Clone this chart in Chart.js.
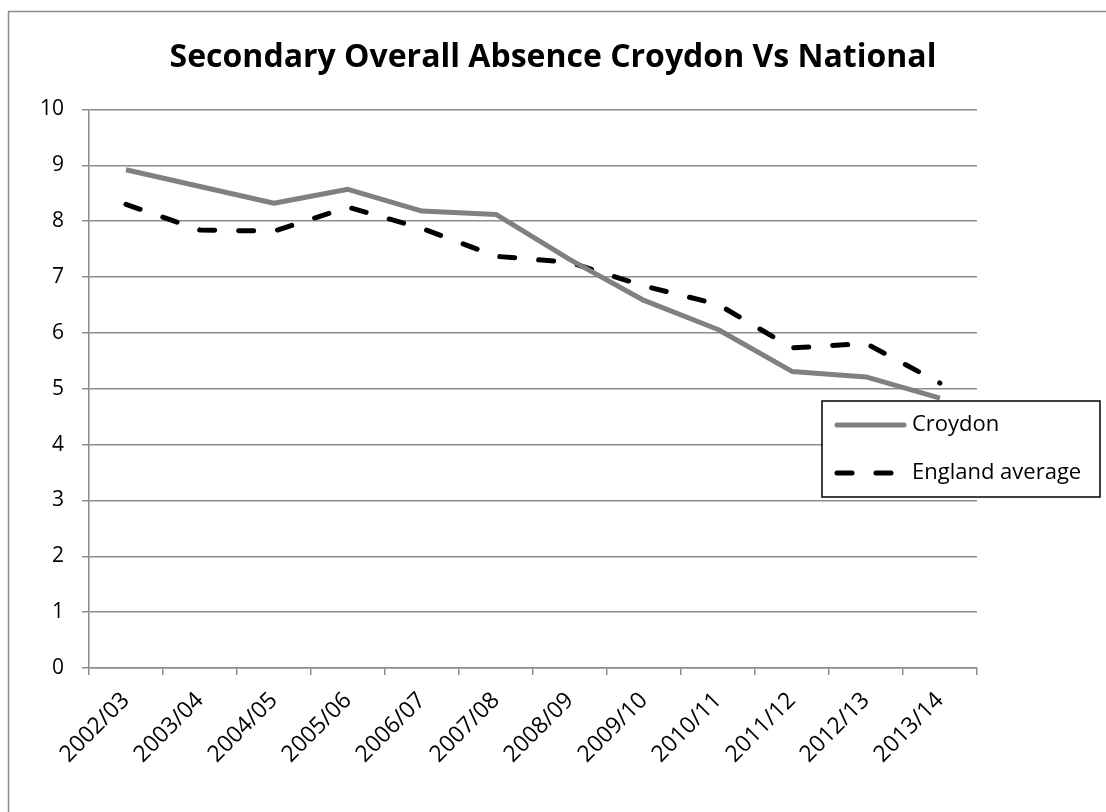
<!DOCTYPE html>
<html>
<head>
<meta charset="utf-8">
<script src="https://cdn.jsdelivr.net/npm/chart.js@4/dist/chart.umd.min.js"></script>
<style>
  html, body { margin: 0; padding: 0; background: #fff; }
  #wrap { width: 1106px; height: 812px; position: relative; }
</style>
</head>
<body>
<div id="wrap"><canvas id="absenceChart"></canvas></div>
<script>
// school years on the x axis
const years = ["2002/03", "2003/04", "2004/05", "2005/06", "2006/07", "2007/08",
               "2008/09", "2009/10", "2010/11", "2011/12", "2012/13", "2013/14"];

// overall absence (%)
const croydon = [8.92, 8.62, 8.32, 8.57, 8.18, 8.12, 7.31, 6.58, 6.06, 5.31, 5.21, 4.83];
const englandAverage = [8.30, 7.84, 7.82, 8.25, 7.87, 7.37, 7.26, 6.84, 6.51, 5.73, 5.81, 5.10];

const yMin = 0;
const yMax = 10;
const yStep = 1;

const gridGrey = "#8c8c8c";

// white page + the grey frame Excel draws round the chart
const framePlugin = {
    id: "frame",
    beforeDraw(chart) {
        const ctx = chart.ctx;
        ctx.save();
        ctx.fillStyle = "#fff";
        ctx.fillRect(0, 0, chart.width, chart.height);
        ctx.strokeStyle = "#8a8a8a";
        ctx.lineWidth = 1.5;
        ctx.strokeRect(8.5, 11.5, chart.width + 50, chart.height + 50);
        ctx.restore();
    }
};

// legend box that sits over the right edge of the plot, as in the original
const boxLegendPlugin = {
    id: "boxLegend",
    afterDraw(chart) {
        const ctx = chart.ctx;
        const left = 822, top = 401, right = 1100, bottom = 497;
        ctx.save();
        ctx.fillStyle = "#fff";
        ctx.fillRect(left, top, right - left, bottom - top);
        ctx.strokeStyle = "#000";
        ctx.lineWidth = 1.5;
        ctx.strokeRect(left, top, right - left, bottom - top);

        const rows = [425, 473];
        chart.data.datasets.forEach((ds, i) => {
            const y = rows[i];
            ctx.beginPath();
            ctx.strokeStyle = ds.borderColor;
            ctx.lineWidth = ds.borderWidth;
            ctx.lineCap = "round";
            ctx.setLineDash(ds.borderDash || []);
            ctx.moveTo(837, y);
            ctx.lineTo(904, y);
            ctx.stroke();
            ctx.setLineDash([]);
            ctx.fillStyle = "#000";
            ctx.font = "22px 'Open Sans'";
            ctx.textBaseline = "middle";
            ctx.textAlign = "left";
            ctx.fillText(ds.label, 912, y);
        });
        ctx.restore();
    }
};

const ctx = document.getElementById("absenceChart").getContext("2d");
new Chart(ctx, {
    type: "line",
    data: {
        labels: years,
        datasets: [{
            label: "Croydon",
            data: croydon,
            borderColor: "#808080",
            borderWidth: 5,
            pointRadius: 0,
            tension: 0,
            borderJoinStyle: "round"
        }, {
            label: "England average",
            data: englandAverage,
            borderColor: "#000000",
            borderWidth: 5,
            borderDash: [15, 24],
            borderCapStyle: "round",
            pointRadius: 0,
            tension: 0
        }]
    },
    options: {
        responsive: true,
        maintainAspectRatio: false,
        animation: false,
        layout: { padding: { top: 8, left: 0, right: 0, bottom: 0 } },
        plugins: {
            legend: { display: false },
            tooltip: { enabled: false },
            title: {
                display: true,
                text: "Secondary Overall Absence Croydon Vs National",
                color: "#000",
                font: { family: "'Open Sans'", size: 32, weight: "bold" },
                padding: { top: 31, bottom: 32 }
            }
        },
        scales: {
            x: {
                offset: true,
                grid: {
                    display: true,
                    offset: true,
                    drawOnChartArea: false,
                    drawTicks: true,
                    tickLength: 7,
                    color: gridGrey,
                    lineWidth: 1.5
                },
                border: { display: true, color: gridGrey, width: 1.5 },
                ticks: {
                    color: "#000",
                    font: { family: "'Open Sans'", size: 23 },
                    minRotation: 45,
                    maxRotation: 45,
                    padding: 12,
                    autoSkip: false
                },
                afterFit(scale) { scale.height = 144; }
            },
            y: {
                min: yMin,
                max: yMax,
                grid: {
                    color: gridGrey,
                    lineWidth: 1.5,
                    tickLength: 7
                },
                border: { display: true, color: gridGrey, width: 1.5 },
                ticks: {
                    stepSize: yStep,
                    color: "#000",
                    font: { family: "'Open Sans'", size: 21 },
                    padding: 18
                },
                afterFit(scale) { scale.width = 89; }
            },
            gap: {
                // empty axis that keeps the plot clear of the right margin
                type: "linear",
                position: "right",
                display: true,
                grid: { display: false },
                border: { display: false },
                ticks: { display: false },
                afterFit(scale) { scale.width = 129; }
            }
        }
    },
    plugins: [framePlugin, boxLegendPlugin]
});
</script>
</body>
</html>
